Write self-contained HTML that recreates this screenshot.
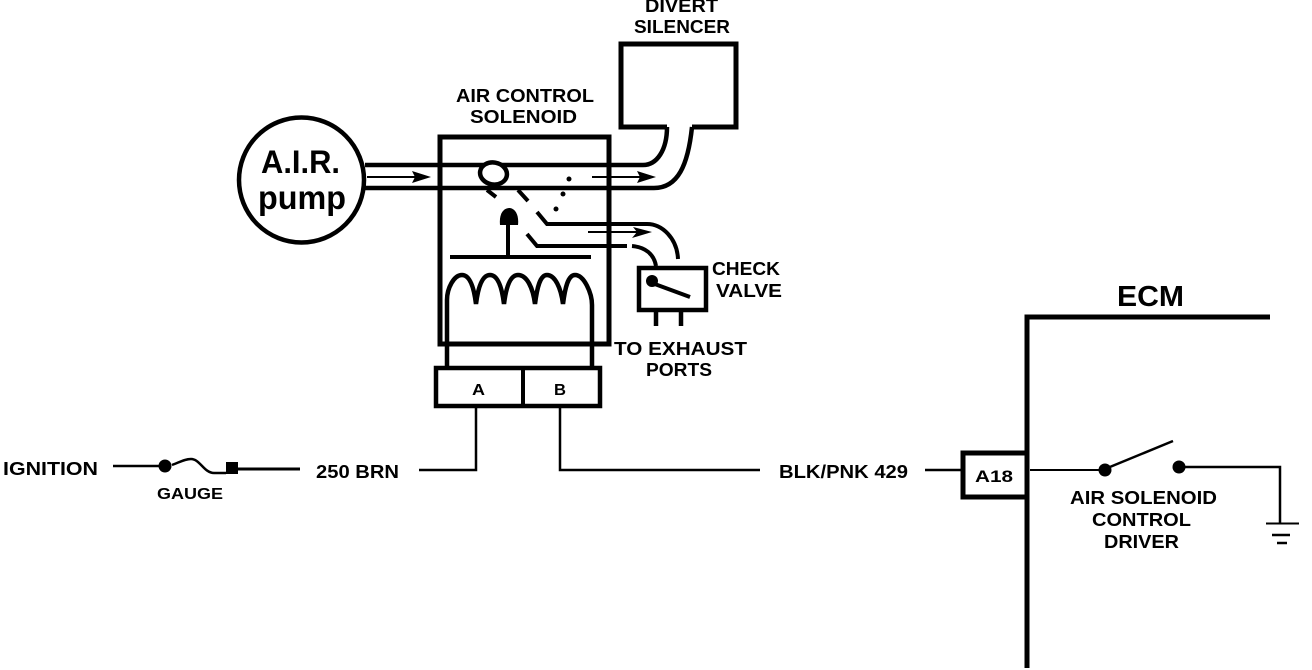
<!DOCTYPE html>
<html>
<head>
<meta charset="utf-8">
<style>
html,body{margin:0;padding:0;background:#fff;width:1312px;height:670px;overflow:hidden}
svg{display:block}
text{font-family:"Liberation Sans",sans-serif;font-weight:bold;fill:#000}
.l{font-size:18px}
</style>
</head>
<body>
<svg width="1312" height="670" viewBox="0 0 1312 670" xmlns="http://www.w3.org/2000/svg">
<rect width="1312" height="670" fill="#fff"/>
<g fill="none" stroke="#000" stroke-linejoin="miter">
  <!-- pump -->
  <circle cx="301.500" cy="180" r="62.500" stroke-width="4.500"/>
  <!-- solenoid box -->
  <rect x="440" y="137" width="169" height="207" stroke-width="5"/>
  <!-- silencer -->
  <path d="M667 127H621V44H736V127H692" stroke-width="5"/>
  <!-- main pipes -->
  <path d="M365 165H643C657 165 667 150 667 127" stroke-width="4.500"/>
  <path d="M365 188H654C678 188 688 165 692 127" stroke-width="4.500"/>
  <!-- valve ball -->
  <ellipse cx="493.500" cy="173.500" rx="13.500" ry="11" transform="rotate(10 493.500 173.500)" fill="#fff" stroke-width="4.500"/>
  <path d="M487 190L496 197M518 190L528 201" stroke-width="4"/>
  <!-- plunger -->
  <path d="M508 218V257M450 257H591" stroke-width="4"/>
  <!-- check valve pipes -->
  <path d="M537 212L547 224H647C662 224 677 238 678 259" stroke-width="4"/>
  <path d="M527 234L537 246H627" stroke-width="4"/>
  <path d="M632 246C645 247 654 254 656 266" stroke-width="4"/>
  <!-- coil -->
  <path d="M447 367V300C447 288 454 275 462 275C470 275 474 288 476 304C478 288 482 275 490 275C498 275 502 288 504 304C506 288 510 275 518 275C527 275 533 288 535 304C537 288 540 275 547 275C555 275 561 288 563 304C565 288 568 275 575 275C584 275 592 293 592 305V367" stroke-width="4.500"/>
  <!-- connector -->
  <rect x="436" y="368" width="164" height="38" stroke-width="4.500"/>
  <path d="M523 368V406" stroke-width="4"/>
  <!-- check valve -->
  <rect x="639" y="268" width="67" height="42" stroke-width="4.500"/>
  <path d="M656 310V326M681 310V326" stroke-width="4.500"/>
  <path d="M652 283L690 297" stroke-width="4"/>
  <!-- wires -->
  <path d="M419 470H476V406M560 406V470H760M925 470H962" stroke-width="2.500"/>
  <path d="M113 466H165" stroke-width="2.500"/>
  <path d="M172 465C180 462 185 459 191 459C200 459 204 473 214 473H226" stroke-width="2.500"/>
  <path d="M238 469H300" stroke-width="3"/>
  <!-- ECM -->
  <path d="M1027 668V317H1270" stroke-width="5"/>
  <rect x="963" y="453" width="64" height="44" fill="#fff" stroke-width="5"/>
  <path d="M1030 470H1105" stroke-width="2"/>
  <path d="M1105 469L1173 441" stroke-width="2.500"/>
  <path d="M1179 467H1280V523" stroke-width="2.500"/>
  <path d="M1266 523.500H1299" stroke-width="2"/>
  <path d="M1272 535H1290" stroke-width="2.500"/>
  <path d="M1277 543H1287" stroke-width="2.500"/>
  <!-- arrow shafts -->
  <path d="M367 177H425M592 177H650M588 232H648" stroke-width="2"/>
</g>
<g fill="#000">
  <path d="M431 177L412 171L415 177L412 183Z"/>
  <path d="M656 177L637 171L640 177L637 183Z"/>
  <path d="M652 232L633 227L637 232L632 238Z"/>
  <path d="M500 225C499 214 503 208 510 208C516 209 519 216 518 225Z"/>
  <circle cx="652" cy="281" r="6"/>
  <circle cx="569" cy="179" r="2.500"/>
  <circle cx="563" cy="194" r="2.500"/>
  <circle cx="556" cy="209" r="2.500"/>
  <circle cx="165" cy="466" r="6.500"/>
  <rect x="226" y="462" width="12" height="12"/>
  <circle cx="1105" cy="470" r="6.500"/>
  <circle cx="1179" cy="467" r="6.500"/>
</g>
<text x="261" y="173" font-size="32" textLength="79" lengthAdjust="spacingAndGlyphs">A.I.R.</text>
<text x="258" y="209" font-size="33" textLength="88" lengthAdjust="spacingAndGlyphs">pump</text>
<text class="l" x="456" y="102" textLength="138" lengthAdjust="spacingAndGlyphs">AIR CONTROL</text>
<text class="l" x="470" y="123" textLength="107" lengthAdjust="spacingAndGlyphs">SOLENOID</text>
<text class="l" x="645" y="12" textLength="73" lengthAdjust="spacingAndGlyphs">DIVERT</text>
<text class="l" x="634" y="33" textLength="96" lengthAdjust="spacingAndGlyphs">SILENCER</text>
<text class="l" x="712" y="275" textLength="68" lengthAdjust="spacingAndGlyphs">CHECK</text>
<text class="l" x="716" y="297" textLength="66" lengthAdjust="spacingAndGlyphs">VALVE</text>
<text class="l" x="614" y="355" textLength="133" lengthAdjust="spacingAndGlyphs">TO EXHAUST</text>
<text class="l" x="646" y="376" textLength="66" lengthAdjust="spacingAndGlyphs">PORTS</text>
<text x="472" y="395" font-size="16" textLength="13" lengthAdjust="spacingAndGlyphs">A</text>
<text x="554" y="395" font-size="16" textLength="12" lengthAdjust="spacingAndGlyphs">B</text>
<text class="l" x="3" y="475" textLength="95" lengthAdjust="spacingAndGlyphs">IGNITION</text>
<text x="157" y="499" font-size="16" textLength="66" lengthAdjust="spacingAndGlyphs">GAUGE</text>
<text class="l" x="316" y="478" textLength="83" lengthAdjust="spacingAndGlyphs">250 BRN</text>
<text class="l" x="779" y="478" textLength="129" lengthAdjust="spacingAndGlyphs">BLK/PNK 429</text>
<text x="975" y="482" font-size="17" textLength="38" lengthAdjust="spacingAndGlyphs">A18</text>
<text x="1117" y="306" font-size="29" textLength="67" lengthAdjust="spacingAndGlyphs">ECM</text>
<text class="l" x="1070" y="504" textLength="147" lengthAdjust="spacingAndGlyphs">AIR SOLENOID</text>
<text class="l" x="1092" y="526" textLength="99" lengthAdjust="spacingAndGlyphs">CONTROL</text>
<text class="l" x="1104" y="548" textLength="75" lengthAdjust="spacingAndGlyphs">DRIVER</text>
</svg>
</body>
</html>
